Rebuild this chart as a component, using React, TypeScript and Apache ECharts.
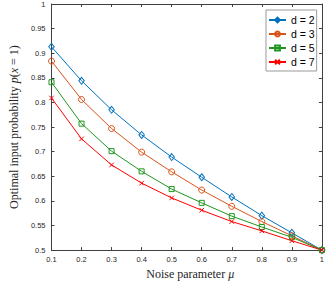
import React, { useEffect, useRef } from "react";
import * as echarts from "echarts";

const mu = [0.1, 0.2, 0.3, 0.4, 0.5, 0.6, 0.7, 0.8, 0.9, 1.0];
const d2 = [0.913, 0.844, 0.785, 0.734, 0.689, 0.648, 0.608, 0.570, 0.535, 0.5];
const d3 = [0.884, 0.806, 0.747, 0.699, 0.659, 0.622, 0.589, 0.558, 0.529, 0.5];
const d5 = [0.841, 0.757, 0.701, 0.660, 0.624, 0.596, 0.569, 0.547, 0.526, 0.5];
const d7 = [0.809, 0.726, 0.673, 0.636, 0.606, 0.581, 0.558, 0.539, 0.519, 0.5];
const seriesNames = ["d = 2", "d = 3", "d = 5", "d = 7"];
const seriesValues = [d2, d3, d5, d7];
const colors = ["#0072BD", "#D95319", "#1E961E", "#FF0000"];
const symbols = ["diamond", "circle", "rect", "path://M0,0L10,10M10,0L0,10"];
const symbolSizes: any[] = [[5.5, 7], 6, 5, 4.5];

export default function App() {
  const ref = useRef<HTMLDivElement>(null);
  useEffect(() => {
    if (!ref.current) return;
    const chart = echarts.init(ref.current, undefined, { renderer: "svg" });
    const axisColor = "#404040";
    const labelFont = { fontFamily: "Liberation Sans", fontSize: 7.5, color: "#262626" };
    const serifRich = {
      n: { fontFamily: "Liberation Serif", fontSize: 12, color: "#262626" },
      i: { fontFamily: "Liberation Serif", fontSize: 12, fontStyle: "italic", color: "#262626" },
    };
    chart.setOption({
      animation: false,
      grid: { left: 34, right: 4, top: 3.5, bottom: 31 },
      legend: {
        orient: "vertical",
        left: 266,
        top: 10,
        data: seriesNames,
        itemWidth: 17,
        itemHeight: 6,
        itemGap: 0,
        padding: [3, 2, 2, 2],
        backgroundColor: "#fff",
        borderColor: "#9a9a9a",
        borderWidth: 1,
        itemStyle: { color: "rgba(0,0,0,0)" },
        textStyle: { fontFamily: "Liberation Sans", fontSize: 10.5, color: "#000", lineHeight: 14 },
      },
      xAxis: [
        {
          type: "value",
          min: 0.1,
          max: 1,
          interval: 0.1,
          position: "bottom",
          name: "{n|Noise parameter }{i|μ}",
          nameLocation: "middle",
          nameGap: 14,
          nameTextStyle: { rich: serifRich, padding: [0, 0, 0, 7] },
          axisLine: { lineStyle: { color: axisColor, width: 1 } },
          axisTick: { inside: true, length: 3, lineStyle: { color: axisColor } },
          axisLabel: { ...labelFont, margin: 5 },
          splitLine: { show: false },
        },
        {
          type: "value",
          min: 0.1,
          max: 1,
          interval: 0.1,
          position: "top",
          axisLine: { lineStyle: { color: axisColor, width: 1 } },
          axisTick: { inside: true, length: 3, lineStyle: { color: axisColor } },
          axisLabel: { show: false },
          splitLine: { show: false },
        },
      ],
      yAxis: [
        {
          type: "value",
          min: 0.5,
          max: 1,
          interval: 0.05,
          position: "left",
          name: "{n|Optimal input probability }{i|p}{n|(}{i|x}{n| = 1)}",
          nameLocation: "middle",
          nameGap: 21,
          nameTextStyle: { rich: serifRich },
          axisLine: { show: true, lineStyle: { color: axisColor, width: 1 } },
          axisTick: { show: true, inside: true, length: 3, lineStyle: { color: axisColor } },
          axisLabel: { ...labelFont, margin: 6 },
          splitLine: { show: false },
        },
        {
          type: "value",
          min: 0.5,
          max: 1,
          interval: 0.05,
          position: "right",
          axisLine: { show: true, lineStyle: { color: axisColor, width: 1 } },
          axisTick: { show: true, inside: true, length: 3, lineStyle: { color: axisColor } },
          axisLabel: { show: false },
          splitLine: { show: false },
        },
      ],
      series: seriesNames.map((name, k) => ({
        name,
        type: "line",
        xAxisIndex: 0,
        yAxisIndex: 0,
        data: mu.map((x, j) => [x, seriesValues[k][j]]),
        symbol: symbols[k],
        symbolSize: symbolSizes[k],
        showAllSymbol: true,
        silent: true,
        lineStyle: { color: colors[k], width: 1 },
        itemStyle: { color: "rgba(0,0,0,0)", borderColor: colors[k], borderWidth: 1 },
        emphasis: { disabled: true },
      })),
    });
    return () => chart.dispose();
  }, []);
  return (
    <div
      ref={ref}
      style={{ position: "fixed", left: 0, top: 0, width: 327, height: 285, background: "#fff" }}
    />
  );
}
